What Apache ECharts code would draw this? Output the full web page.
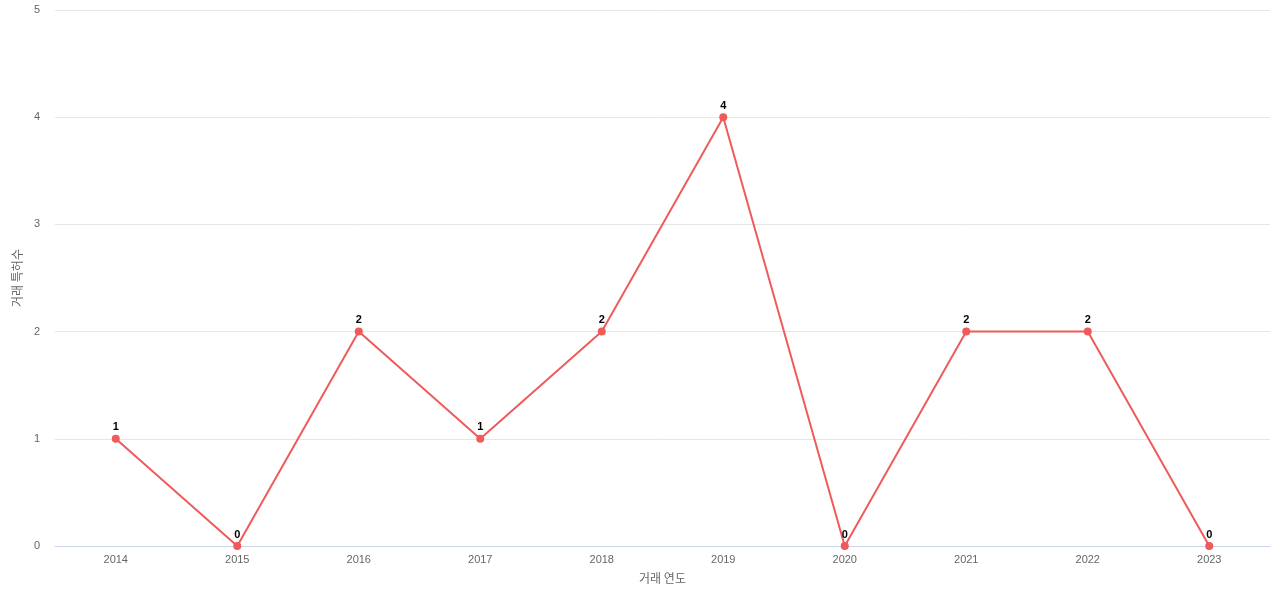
<!DOCTYPE html>
<html><head><meta charset="utf-8">
<script src="https://cdn.jsdelivr.net/npm/echarts@6/dist/echarts.min.js"></script>
<style>html,body{margin:0;padding:0}#c{width:1280px;height:600px}</style>
</head><body><div id="c"></div>
<script>
const years = ['2014','2015','2016','2017','2018','2019','2020','2021','2022','2023'];
const counts = [1,0,2,1,2,4,0,2,2,0];
const chart = echarts.init(document.getElementById('c'));
chart.setOption({
  animation:false,
  grid:{left:55,right:10,top:10,bottom:54},
  xAxis:{type:'category',data:years,name:'거래 연도',nameLocation:'middle',nameGap:26,
    nameTextStyle:{color:'#666',fontSize:12,fontFamily:'Noto Sans CJK KR'},
    axisLine:{lineStyle:{color:'#ccd6eb'}},axisTick:{show:false},
    axisLabel:{color:'#666',fontSize:11}},
  yAxis:{type:'value',min:0,max:5,interval:1,name:'거래 특허수',nameLocation:'middle',nameGap:30,
    nameTextStyle:{color:'#666',fontSize:12,fontFamily:'Noto Sans CJK KR'},
    axisLabel:{color:'#666',fontSize:11,margin:15},
    splitLine:{lineStyle:{color:'#e6e6e6'}}},
  series:[{type:'line',data:counts,symbol:'circle',symbolSize:8,
    itemStyle:{color:'#ef5b5b'},lineStyle:{color:'#ef5b5b',width:2},
    label:{show:true,position:'top',distance:2,color:'#000',fontWeight:'bold',fontSize:11}}]
});
</script></body></html>
